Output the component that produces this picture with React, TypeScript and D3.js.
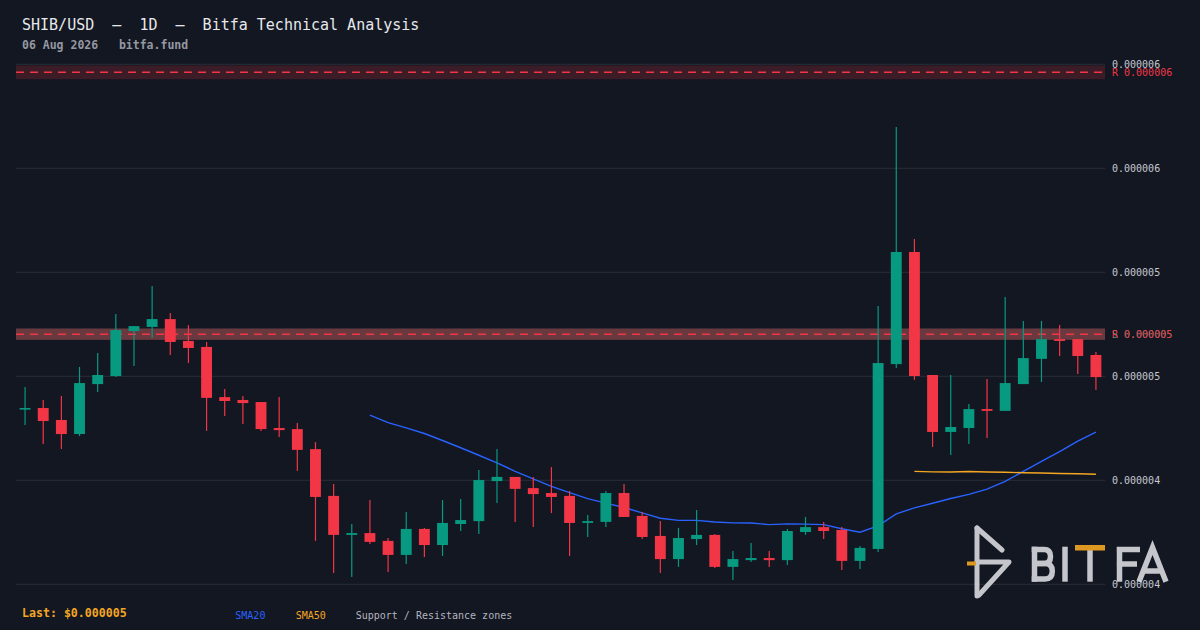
import React from "react";
import * as d3 from "d3";

// prices are in millionths of a dollar (1 = $0.000001)
const opens = [
  4.672, 4.678, 4.632, 4.578, 4.77, 4.801, 4.974, 4.99, 5.02, 4.936,
  4.913, 4.72, 4.709, 4.701, 4.601, 4.597, 4.52, 4.34, 4.19, 4.197,
  4.167, 4.113, 4.213, 4.151, 4.232, 4.243, 4.397, 4.413, 4.37, 4.351,
  4.34, 4.236, 4.24, 4.351, 4.263, 4.186, 4.097, 4.174, 4.19, 4.067,
  4.093, 4.101, 4.093, 4.201, 4.22, 4.209, 4.09, 4.136, 4.847, 5.278,
  4.805, 4.586, 4.601, 4.674, 4.667, 4.77, 4.867, 4.943, 4.943, 4.882,
];
const highs = [
  4.759, 4.709, 4.724, 4.836, 4.89, 5.04, 4.993, 5.147, 5.043, 4.997,
  4.932, 4.751, 4.724, 4.701, 4.72, 4.62, 4.547, 4.386, 4.232, 4.324,
  4.178, 4.278, 4.217, 4.324, 4.328, 4.44, 4.52, 4.413, 4.413, 4.451,
  4.359, 4.267, 4.359, 4.386, 4.278, 4.243, 4.217, 4.286, 4.193, 4.128,
  4.159, 4.128, 4.213, 4.259, 4.24, 4.22, 4.147, 5.07, 5.759, 5.328,
  4.805, 4.805, 4.693, 4.79, 5.105, 5.013, 5.013, 4.997, 4.943, 4.893,
];
const lows = [
  4.613, 4.54, 4.52, 4.57, 4.74, 4.797, 4.84, 4.947, 4.882, 4.851,
  4.59, 4.647, 4.617, 4.59, 4.567, 4.436, 4.167, 4.043, 4.028, 4.155,
  4.047, 4.078, 4.105, 4.109, 4.205, 4.193, 4.313, 4.24, 4.22, 4.274,
  4.109, 4.182, 4.22, 4.259, 4.174, 4.043, 4.067, 4.151, 4.063, 4.017,
  4.086, 4.067, 4.074, 4.19, 4.174, 4.055, 4.059, 4.124, 4.832, 4.786,
  4.528, 4.497, 4.54, 4.563, 4.667, 4.77, 4.778, 4.878, 4.809, 4.747,
];
const closes = [
  4.678, 4.628, 4.578, 4.774, 4.805, 4.978, 4.993, 5.02, 4.932, 4.909,
  4.717, 4.705, 4.697, 4.597, 4.593, 4.517, 4.336, 4.19, 4.197, 4.163,
  4.113, 4.213, 4.151, 4.236, 4.247, 4.401, 4.413, 4.367, 4.347, 4.336,
  4.236, 4.243, 4.351, 4.259, 4.182, 4.097, 4.178, 4.19, 4.067, 4.097,
  4.101, 4.093, 4.205, 4.22, 4.205, 4.09, 4.14, 4.851, 5.278, 4.801,
  4.586, 4.605, 4.674, 4.667, 4.774, 4.87, 4.943, 4.936, 4.878, 4.797,
];

const yTicks = [4.0, 4.4, 4.8, 5.2, 5.6, 6.0];
const resistanceLevels = [5.969, 4.962];
const supportLevels = [4.962];
const ZONE_PCT = 0.0044;

const W = 1200;
const H = 630;
const LEFT = 16;
const RIGHT = 1105;
const TOP = 64.3;
const BOTTOM = 584.3;

const BG = "#131722";
const GRID = "#2a2e39";
const UP = "#089981";
const DOWN = "#f23645";
const BLUE = "#2962ff";
const ORANGE = "#f5a623";
const MONO = "'DejaVu Sans Mono', monospace";

const resistanceFill = ["rgba(242,54,69,0.18)", "rgba(242,54,69,0.40)"];
const supportFill = ["rgba(8,153,129,0.28)"];

const fmt = (v: number) => (v * 1e-6).toFixed(6);

function sma(values: number[], n: number) {
  return values.map((_, i) =>
    i < n - 1 ? null : (d3.mean(values.slice(i - n + 1, i + 1)) as number)
  );
}

const Watermark = () => {
  const grey = "#d8d9de";
  return (
    <g opacity={0.9}>
      {/* icon */}
      <g fill="none" stroke={grey} strokeWidth={5} strokeLinecap="round" strokeLinejoin="round">
        <path d="M977,528 V596" />
        <path d="M977,528 L1002,550" />
        <path d="M977,562 H1009 L979,595" />
      </g>
      <path d="M967,563.5 H976" stroke={ORANGE} strokeWidth={4} />
      {/* letters */}
      <g fill="none" stroke={grey} strokeWidth={5.5}>
        <path d="M1034.5,546.7 V581.7" />
        <path d="M1031.7,549.5 H1044 C1049,549.5 1050.5,552.5 1050.5,556.5 C1050.5,560.5 1049,563.5 1044,563.5 H1034.5" />
        <path d="M1034.5,563.5 H1045 C1050.5,563.5 1052.3,567 1052.3,571.3 C1052.3,575.7 1050.5,579 1045,579 H1031.7" />
        <path d="M1065,546.7 V581.7" />
        <path d="M1090,550 V581.7" />
        <path d="M1119.5,546.7 V581.7 M1116.7,549.5 H1140 M1116.7,564 H1137" />
        <path d="M1139,581.7 L1152.5,547.5 L1166,581.7 M1143.5,571 H1161.5" />
      </g>
      <rect x={1075} y={545} width={30} height={5.5} fill={ORANGE} />
    </g>
  );
};

const App = () => {
  const idx = d3.range(closes.length);
  const x = d3.scalePoint<number>().domain(idx).range([LEFT, RIGHT]).padding(0.5);
  const y = d3.scaleLinear().domain([4.0, 6.0]).range([BOTTOM, TOP]);
  const bw = x.step() * 0.6;

  const sma20 = sma(closes, 20);
  const sma50 = sma(closes, 50);
  const line = d3
    .line<number | null>()
    .defined((d) => d != null)
    .x((_, i) => x(i) as number)
    .y((d) => y(d as number));

  const zone = (lvl: number) => ({
    y0: y(lvl * (1 + ZONE_PCT)),
    y1: y(lvl * (1 - ZONE_PCT)),
  });

  return (
    <svg
      width={W}
      height={H}
      style={{ position: "absolute", left: 0, top: 0, display: "block" }}
      fontFamily={MONO}
    >
      <rect width={W} height={H} fill={BG} />

      {yTicks.map((t) => (
        <line key={t} x1={LEFT} x2={RIGHT} y1={y(t)} y2={y(t)} stroke={GRID} strokeWidth={1} />
      ))}

      {supportLevels.map((lvl, i) => {
        const z = zone(lvl);
        return <rect key={"s" + i} x={LEFT} width={RIGHT - LEFT} y={z.y0} height={z.y1 - z.y0} fill={supportFill[i]} />;
      })}
      {resistanceLevels.map((lvl, i) => {
        const z = zone(lvl);
        return (
          <g key={"r" + i}>
            <rect x={LEFT} width={RIGHT - LEFT} y={z.y0} height={z.y1 - z.y0} fill={resistanceFill[i]} />
            <line x1={LEFT} x2={RIGHT} y1={y(lvl)} y2={y(lvl)} stroke={DOWN} strokeWidth={1.5} strokeDasharray="8 6" />
          </g>
        );
      })}

      <path d={line(sma20) || ""} fill="none" stroke={BLUE} strokeWidth={1.4} />
      <path d={line(sma50) || ""} fill="none" stroke={ORANGE} strokeWidth={1.4} />

      {idx.map((i) => {
        const o = opens[i];
        const c = closes[i];
        const col = c >= o ? UP : DOWN;
        const cx = x(i) as number;
        const top = y(Math.max(o, c));
        const h = Math.max(1.6, Math.abs(y(o) - y(c)));
        return (
          <g key={i}>
            <line x1={cx} x2={cx} y1={y(highs[i])} y2={y(lows[i])} stroke={col} strokeWidth={1.2} />
            <rect x={cx - bw / 2} y={top} width={bw} height={h} fill={col} />
          </g>
        );
      })}

      {yTicks.map((t) => (
        <text key={t} x={1112} y={y(t)} dy="0.35em" fontSize={10} fill="#c5c8cf">
          {fmt(t)}
        </text>
      ))}
      {supportLevels.map((lvl, i) => (
        <text key={"sl" + i} x={1112} y={y(lvl)} dy="0.35em" fontSize={10} fill={UP} style={{ whiteSpace: "pre" }}>
          {"S " + fmt(lvl)}
        </text>
      ))}
      {resistanceLevels.map((lvl, i) => (
        <text key={"rl" + i} x={1112} y={y(lvl)} dy="0.35em" fontSize={10} fill={DOWN} style={{ whiteSpace: "pre" }}>
          {"R " + fmt(lvl)}
        </text>
      ))}

      <Watermark />

      <text x={22} y={29.5} fontSize={15} fill="#e6e8ec" style={{ whiteSpace: "pre" }}>
        {"SHIB/USD  –  1D  –  Bitfa Technical Analysis"}
      </text>
      <text x={22} y={48.5} fontSize={11.5} fontWeight="bold" fill="#9598a1" style={{ whiteSpace: "pre" }}>
        {"06 Aug 2026   bitfa.fund"}
      </text>

      <text x={22} y={612.7} dy="0.35em" fontSize={11.6} fontWeight="bold" fill={ORANGE}>
        {"Last: $" + fmt(closes[closes.length - 1])}
      </text>
      <text x={235.3} y={615} dy="0.35em" fontSize={10} fill={BLUE}>SMA20</text>
      <text x={295.7} y={615} dy="0.35em" fontSize={10} fill={ORANGE}>SMA50</text>
      <text x={355.7} y={615} dy="0.35em" fontSize={10} fill="#b2b5be">
        Support / Resistance zones
      </text>
    </svg>
  );
};

export default App;
